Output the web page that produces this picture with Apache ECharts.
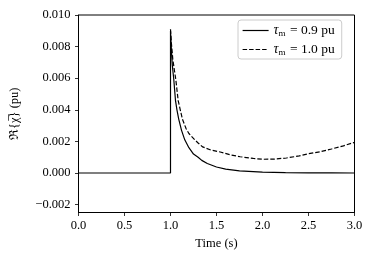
<!DOCTYPE html>
<html>
<head>
<meta charset="utf-8">
<script src="https://cdn.jsdelivr.net/npm/echarts@6/dist/echarts.min.js"></script>
<style>
html,body{margin:0;padding:0;background:#fff;}
#c{width:374px;height:263px;}
</style>
</head>
<body>
<div id="c"></div>
<script>
// Time points (s) and values (pu)
const timeSolid = [0, 1.0, 1.0, 1.01, 1.02, 1.036, 1.054, 1.07, 1.09, 1.12, 1.155, 1.2, 1.25, 1.3, 1.34, 1.4, 1.5, 1.6, 1.75, 2.0, 2.25, 2.5, 2.75, 3.0];
const valSolid  = [0, 0, 0.0090, 0.0078, 0.0068, 0.0059, 0.0046, 0.0040, 0.0034, 0.0027, 0.0021, 0.0016, 0.0012, 0.0010, 0.0008, 0.0006, 0.00038, 0.00025, 0.00014, 0.00006, 0.00003, 0.00001, 0.000005, 0.0];
// the dashed trace's flat zero part (t < 1) is hidden under the solid trace in the reference
const timeDashed = [1.0, 1.01, 1.025, 1.04, 1.058, 1.083, 1.11, 1.13, 1.17, 1.2, 1.264, 1.3, 1.35, 1.43, 1.54, 1.65, 1.757, 1.9, 2.01, 2.13, 2.26, 2.4, 2.5, 2.63, 2.75, 2.88, 3.0];
const valDashed  = [0.0091, 0.0082, 0.0072, 0.0066, 0.0059, 0.0046, 0.0039, 0.0034, 0.0028, 0.0025, 0.0021, 0.0019, 0.00165, 0.00147, 0.00133, 0.00115, 0.00103, 0.00092, 0.00087, 0.00088, 0.00095, 0.00108, 0.00122, 0.00135, 0.00152, 0.00172, 0.00194];
const xTicks = [0, 0.5, 1.0, 1.5, 2.0, 2.5, 3.0];
const yTicks = [-0.002, 0.000, 0.002, 0.004, 0.006, 0.008, 0.010];
const seriesNames = ['0.9', '1.0'];

const FONT = '"Liberation Serif", "DejaVu Serif", serif';
const pair = (ts, vs) => ts.map((t, i) => [t, vs[i]]);

const chart = echarts.init(document.getElementById('c'), null, {renderer: 'canvas'});
chart.setOption({
  animation: false,
  backgroundColor: '#fff',
  textStyle: {fontFamily: FONT},
  grid: {left: 78.5, top: 15, width: 276, height: 197.5, show: true, borderColor: '#000', borderWidth: 1, backgroundColor: 'transparent'},
  legend: {
    orient: 'vertical', left: 238, top: 20,
    backgroundColor: '#fff', borderColor: '#cccccc', borderWidth: 1, borderRadius: 3,
    padding: [3, 7, 2, 4], itemWidth: 26, itemHeight: 10, itemGap: 4,
    itemStyle: {opacity: 0},
    lineStyle: {opacity: 1, width: 1.2},
    data: seriesNames,
    formatter: n => '{t|τ}{s|m}{r| = ' + n + ' pu}',
    textStyle: {
      fontFamily: FONT, fontSize: 13, color: '#000',
      rich: {
        t: {fontFamily: FONT, fontStyle: 'italic', fontSize: 14, color: '#000', lineHeight: 15, verticalAlign: 'middle'},
        s: {fontFamily: FONT, fontSize: 9, color: '#000', lineHeight: 15, padding: [6, 0, 0, 0], verticalAlign: 'middle'},
        r: {fontFamily: FONT, fontSize: 13.5, color: '#000', lineHeight: 15, padding: [0, 0, 0, 1], verticalAlign: 'middle'}
      }
    }
  },
  xAxis: {
    type: 'value', min: 0, max: 3, interval: 0.5,
    name: 'Time (s)', nameLocation: 'middle', nameGap: 25,
    nameTextStyle: {fontFamily: FONT, fontSize: 12.5, color: '#000'},
    axisLine: {show: true, onZero: false, lineStyle: {color: '#000', width: 1}},
    axisTick: {show: true, length: 3.5, lineStyle: {color: '#000', width: 0.8}, customValues: xTicks},
    axisLabel: {fontFamily: FONT, fontSize: 12.5, color: '#000', margin: 7, customValues: xTicks, formatter: v => v.toFixed(1)},
    splitLine: {show: false}
  },
  yAxis: {
    type: 'value', min: -0.0025, max: 0.010,
    name: 'ℜ{χ\u0305} (pu)', nameLocation: 'middle', nameGap: 57, nameRotate: 90,
    nameTextStyle: {fontFamily: FONT, fontSize: 12.5, color: '#000'},
    axisLine: {show: true, onZero: false, lineStyle: {color: '#000', width: 1}},
    axisTick: {show: true, length: 3.5, lineStyle: {color: '#000', width: 0.8}, customValues: yTicks},
    axisLabel: {fontFamily: FONT, fontSize: 12.5, color: '#000', margin: 8, customValues: yTicks,
      formatter: v => (v < 0 ? '\u2212' : '') + Math.abs(v).toFixed(3)},
    splitLine: {show: false}
  },
  series: [
    {name: seriesNames[1], type: 'line', symbol: 'none', z: 2, data: pair(timeDashed, valDashed),
     lineStyle: {color: '#000', width: 1.2, type: [4.5, 2]}, itemStyle: {color: '#000'}},
    {name: seriesNames[0], type: 'line', symbol: 'none', z: 4, data: pair(timeSolid, valSolid),
     lineStyle: {color: '#000', width: 1.2, type: 'solid'}, itemStyle: {color: '#000'}}
  ]
});
</script>
</body>
</html>
